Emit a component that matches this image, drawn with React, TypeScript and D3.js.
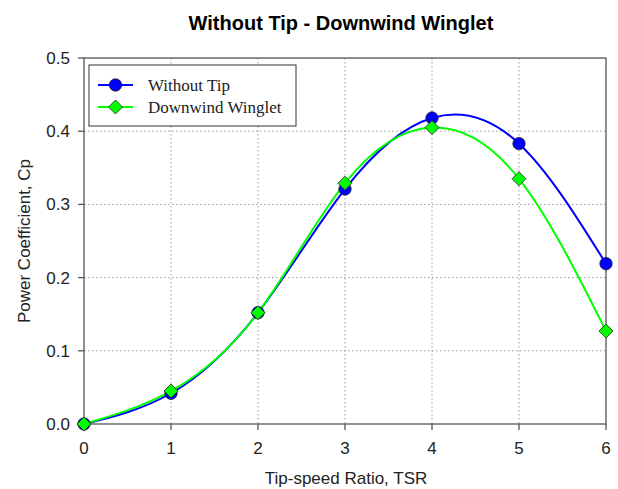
import React from "react";
import * as d3 from "d3";

const tsr = [0, 1, 2, 3, 4, 5, 6];
const withoutTip = [0, 0.042, 0.152, 0.321, 0.418, 0.383, 0.219];
const downwind = [0, 0.045, 0.152, 0.329, 0.405, 0.335, 0.127];
const xTicks = [0, 1, 2, 3, 4, 5, 6];
const yTicks = [0, 0.1, 0.2, 0.3, 0.4, 0.5];

const W = 618, H = 489;
const L = 84, R = 606, T = 58, B = 424;

export default function App() {
  const x = d3.scaleLinear().domain([0, 6]).range([L, R]);
  const y = d3.scaleLinear().domain([0, 0.5]).range([B, T]);
  const line = d3.line<number>().x((_, i) => x(tsr[i])).y((d) => y(d)).curve(d3.curveNatural);
  const diamond = (cx: number, cy: number, s: number) =>
    `M${cx},${cy - s}L${cx + s},${cy}L${cx},${cy + s}L${cx - s},${cy}Z`;
  const font = "Arial, 'Liberation Sans', sans-serif";
  const serif = "'Times New Roman', 'Liberation Serif', serif";
  return (
    <svg width={W} height={H} style={{ position: "absolute", left: 0, top: 0 }}>
      <rect width={W} height={H} fill="#fff" />
      <text x={341} y={30} textAnchor="middle" fontFamily={font} fontWeight="bold" fontSize={20}>
        Without Tip - Downwind Winglet
      </text>
      {xTicks.slice(1, -1).map((t) => (
        <line key={"gx" + t} x1={x(t)} x2={x(t)} y1={T} y2={B} stroke="#999" strokeDasharray="1.5,2.5" />
      ))}
      {yTicks.slice(1, -1).map((t) => (
        <line key={"gy" + t} x1={L} x2={R} y1={y(t)} y2={y(t)} stroke="#999" strokeDasharray="1.5,2.5" />
      ))}
      <rect x={L} y={T} width={R - L} height={B - T} fill="none" stroke="#555" strokeWidth={1.3} />
      {xTicks.map((t) => (
        <g key={"tx" + t}>
          <line x1={x(t)} x2={x(t)} y1={B} y2={B + 6} stroke="#555" strokeWidth={1.3} />
          <text x={x(t)} y={B + 30} textAnchor="middle" fontFamily={font} fontSize={17} fill="#222">
            {t}
          </text>
        </g>
      ))}
      {yTicks.map((t) => (
        <g key={"ty" + t}>
          <line x1={L - 6} x2={L} y1={y(t)} y2={y(t)} stroke="#555" strokeWidth={1.3} />
          <text x={L - 14} y={y(t) + 6} textAnchor="end" fontFamily={font} fontSize={17} fill="#222">
            {t.toFixed(1)}
          </text>
        </g>
      ))}
      <text x={346} y={484} textAnchor="middle" fontFamily={font} fontSize={17} fill="#222">
        Tip-speed Ratio, TSR
      </text>
      <text transform={`translate(30,${(T + B) / 2}) rotate(-90)`} textAnchor="middle" fontFamily={font} fontSize={17} fill="#222">
        Power Coefficient, Cp
      </text>
      <path d={line(withoutTip) || ""} fill="none" stroke="#0000ff" strokeWidth={2} />
      <path d={line(downwind) || ""} fill="none" stroke="#00ff00" strokeWidth={2} />
      {withoutTip.map((v, i) => (
        <circle key={"c" + i} cx={x(tsr[i])} cy={y(v)} r={6.2} fill="#0000ff" stroke="#222" strokeWidth={0.8} />
      ))}
      {downwind.map((v, i) => (
        <path key={"d" + i} d={diamond(x(tsr[i]), y(v), 7)} fill="#00ff00" stroke="#222" strokeWidth={0.8} />
      ))}
      <g>
        <rect x={89} y={65} width={207} height={61} fill="#fff" stroke="#333" strokeWidth={1} />
        <line x1={98} x2={133} y1={85} y2={85} stroke="#0000ff" strokeWidth={2} />
        <circle cx={115.5} cy={85} r={6.2} fill="#0000ff" stroke="#222" strokeWidth={0.8} />
        <text x={148} y={91} fontFamily={serif} fontSize={17} fill="#222">Without Tip</text>
        <line x1={98} x2={133} y1={107} y2={107} stroke="#00ff00" strokeWidth={2} />
        <path d={diamond(115.5, 107, 7)} fill="#00ff00" stroke="#222" strokeWidth={0.8} />
        <text x={148} y={113} fontFamily={serif} fontSize={17} fill="#222">Downwind Winglet</text>
      </g>
    </svg>
  );
}
